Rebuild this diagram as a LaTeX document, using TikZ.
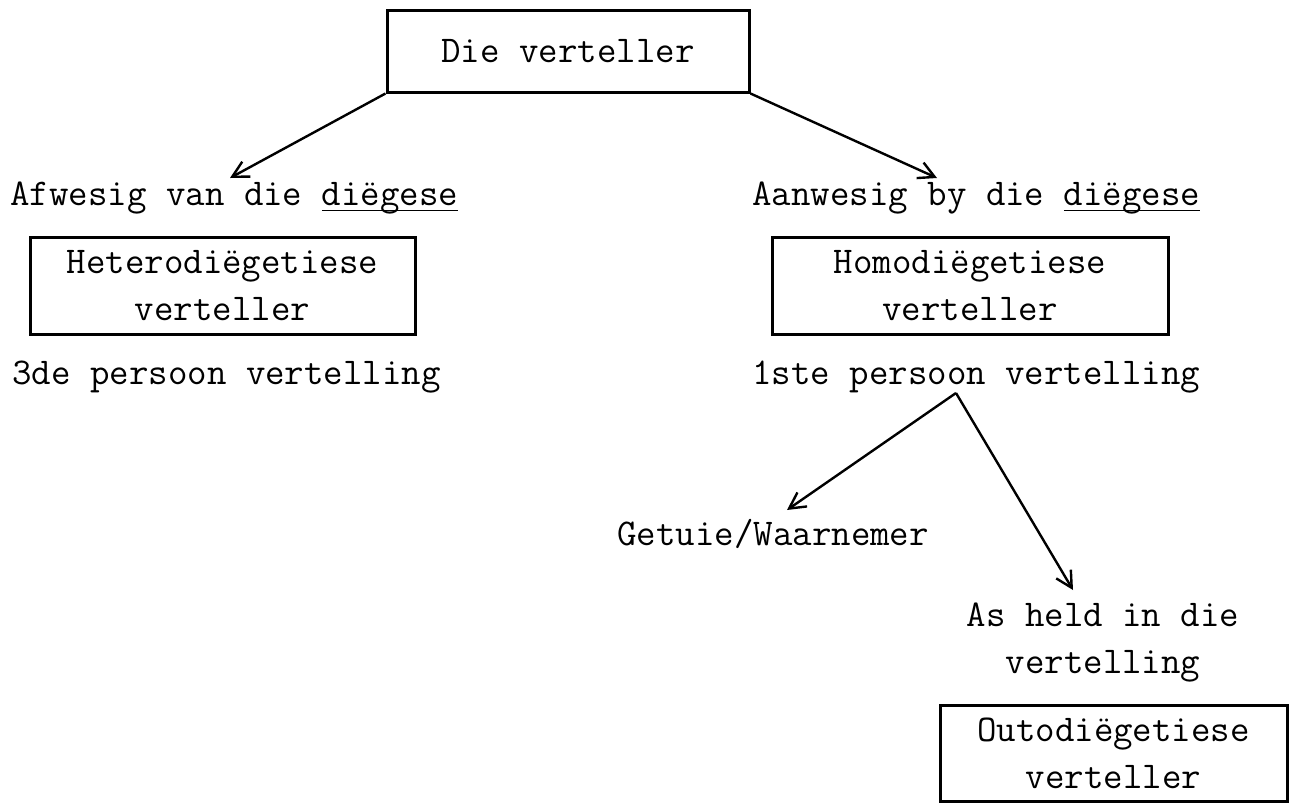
\documentclass[tikz,border=0pt]{standalone}
\usepackage{fontspec}
\usetikzlibrary{arrows.meta,positioning}
\newcommand{\dieglyn}[1]{\setbox0\hbox{#1}\rlap{\rule[-3.2pt]{\wd0}{0.8pt}}\box0}% underline through the descender

\begin{document}
\begin{tikzpicture}[x=0.5pt,y=-0.5pt,% one unit = one pixel of the scan
        font=\ttfamily\fontsize{18.9}{23.5}\selectfont,
        raam/.style={draw,line width=1.5pt,inner sep=0pt,align=center},%boxed terms
        teks/.style={anchor=base west,inner sep=0pt},
        pyl/.style={line width=1.2pt,-{Straight Barb[length=8pt,width=8.5pt]}}]
\useasboundingbox (0,0) rectangle (1298,804);

\node[raam,minimum width=181pt,minimum height=41pt] (verteller) at (568,51) {Die verteller};

\node[teks] (afwesig) at (10,205) {Afwesig van die \dieglyn{diëgese}};
\node[teks] (aanwesig) at (752,205) {Aanwesig by die \dieglyn{diëgese}};

\node[raam,minimum width=192.5pt,minimum height=48.5pt] (hetero) at (222.5,285.5) {Heterodiëgetiese\\verteller};
\node[raam,minimum width=198pt,minimum height=48.5pt] (homo) at (970,285.5) {Homodiëgetiese\\verteller};

\node[teks] (derde) at (12,384) {3de persoon vertelling};
\node[teks] (eerste) at (752,384) {1ste persoon vertelling};

\node[teks] (getuie) at (617,545) {Getuie/Waarnemer};
\node[inner sep=0pt,align=center] (held) at (1103,643) {As held in die\\vertelling};
\node[raam,minimum width=173.5pt,minimum height=48pt] (outo) at (1113.5,753) {Outodiëgetiese\\verteller};

% arrow ends
\coordinate (afwPunt) at (230,178);
\coordinate (aanPunt) at (937,178);
\coordinate (splits) at (956,393);
\coordinate (getuiePunt) at (787,510);
\coordinate (heldPunt) at (1073,590);

\draw[pyl] (verteller.south west) -- (afwPunt);
\draw[pyl] (verteller.south east) -- (aanPunt);
\draw[pyl] (splits) -- (getuiePunt);
\draw[pyl] (splits) -- (heldPunt);
\end{tikzpicture}
\end{document}
